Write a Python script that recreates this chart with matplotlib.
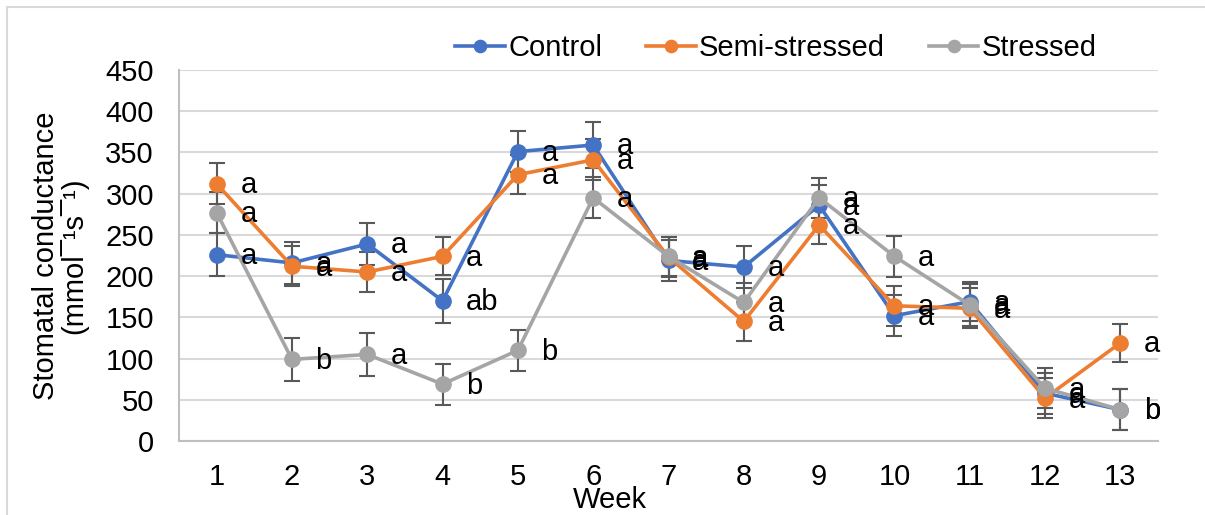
import matplotlib
matplotlib.use("Agg")
import matplotlib.pyplot as plt
from matplotlib.patches import Rectangle

plt.rcParams['font.family'] = ['Liberation Sans', 'DejaVu Sans']

# data
weeks = list(range(1, 14))
control = [226, 216, 239, 170, 351, 359, 219, 211, 286, 152, 169, 58, 38]
semi = [312, 212, 205, 224, 323, 341, 223, 145, 262, 164, 161, 52, 119]
stressed = [277, 99, 105, 69, 110, 295, 224, 168, 295, 224, 165, 64, 38]

control_err = [26, 25, 26, 27, 25, 28, 25, 26, 25, 25, 24, 25, 25]
semi_err = [25, 24, 24, 23, 24, 25, 24, 24, 23, 24, 24, 24, 23]
stressed_err = [25, 26, 26, 25, 25, 25, 24, 24, 24, 25, 25, 24, 25]

control_lbl = ['a', 'a', 'a', 'ab', 'a', 'a', 'a', 'a', 'a', 'a', 'a', 'a', 'b']
semi_lbl = ['a'] * 13
stressed_lbl = ['a', 'b', 'a', 'b', 'b', 'a', 'a', 'a', 'a', 'a', 'a', 'a', 'b']

series = [
    ("Control", control, control_err, control_lbl, "#4472C4"),
    ("Semi-stressed", semi, semi_err, semi_lbl, "#ED7D31"),
    ("Stressed", stressed, stressed_err, stressed_lbl, "#A5A5A5"),
]

fig = plt.figure(figsize=(12.05, 5.15), dpi=100)
ax = fig.add_axes([179 / 1205, 1 - 441 / 515, (1158 - 179) / 1205, (441 - 70) / 515])

fs = 21
for name, vals, err, lbls, col in series:
    ax.errorbar(weeks, vals, yerr=err, fmt='none', ecolor='#595959',
                elinewidth=1.5, capsize=6, capthick=1.5, zorder=2)
    ax.plot(weeks, vals, color=col, lw=2.6, marker='o', ms=11,
            label=name, zorder=3)
    for x, v, t in zip(weeks, vals, lbls):
        ax.annotate(t, (x, v), xytext=(17, -1), textcoords='offset points',
                    ha='left', va='center', fontsize=fs, zorder=4)

ax.set_xlim(0.5, 13.5)
ax.set_ylim(0, 450)
ax.set_yticks(range(0, 451, 50))
ax.set_xticks(weeks)
ax.tick_params(axis='both', length=0, labelsize=fs)
ax.tick_params(axis='y', pad=18)
ax.tick_params(axis='x', pad=16)
ax.grid(axis='y', color='#d9d9d9', lw=1.5)
ax.set_axisbelow(True)
for s in ['top', 'right']:
    ax.spines[s].set_visible(False)
for s in ['left', 'bottom']:
    ax.spines[s].set_color('#bfbfbf')
    ax.spines[s].set_linewidth(1.5)

fig.text(60 / 1205, 1 - 256 / 515, "Stomatal conductance\n(mmol¯¹s¯¹)",
         rotation=90, ha='center', va='center', fontsize=fs, linespacing=0.95)
fig.text(610 / 1205, 1 - 500 / 515, "Week", ha='center', va='center', fontsize=fs)

fig.legend(loc='center', bbox_to_anchor=(776 / 1205, 1 - 48 / 515), ncol=3,
           frameon=False, fontsize=fs, handlelength=1.7, handletextpad=0.12,
           columnspacing=1.5, markerscale=0.8)

fig.add_artist(Rectangle((7 / 1205, -0.1), 1.2, 1.1 - 7 / 515,
                         transform=fig.transFigure, fill=False,
                         ec='#d9d9d9', lw=1.5))

fig.savefig("out.png", dpi=100)
